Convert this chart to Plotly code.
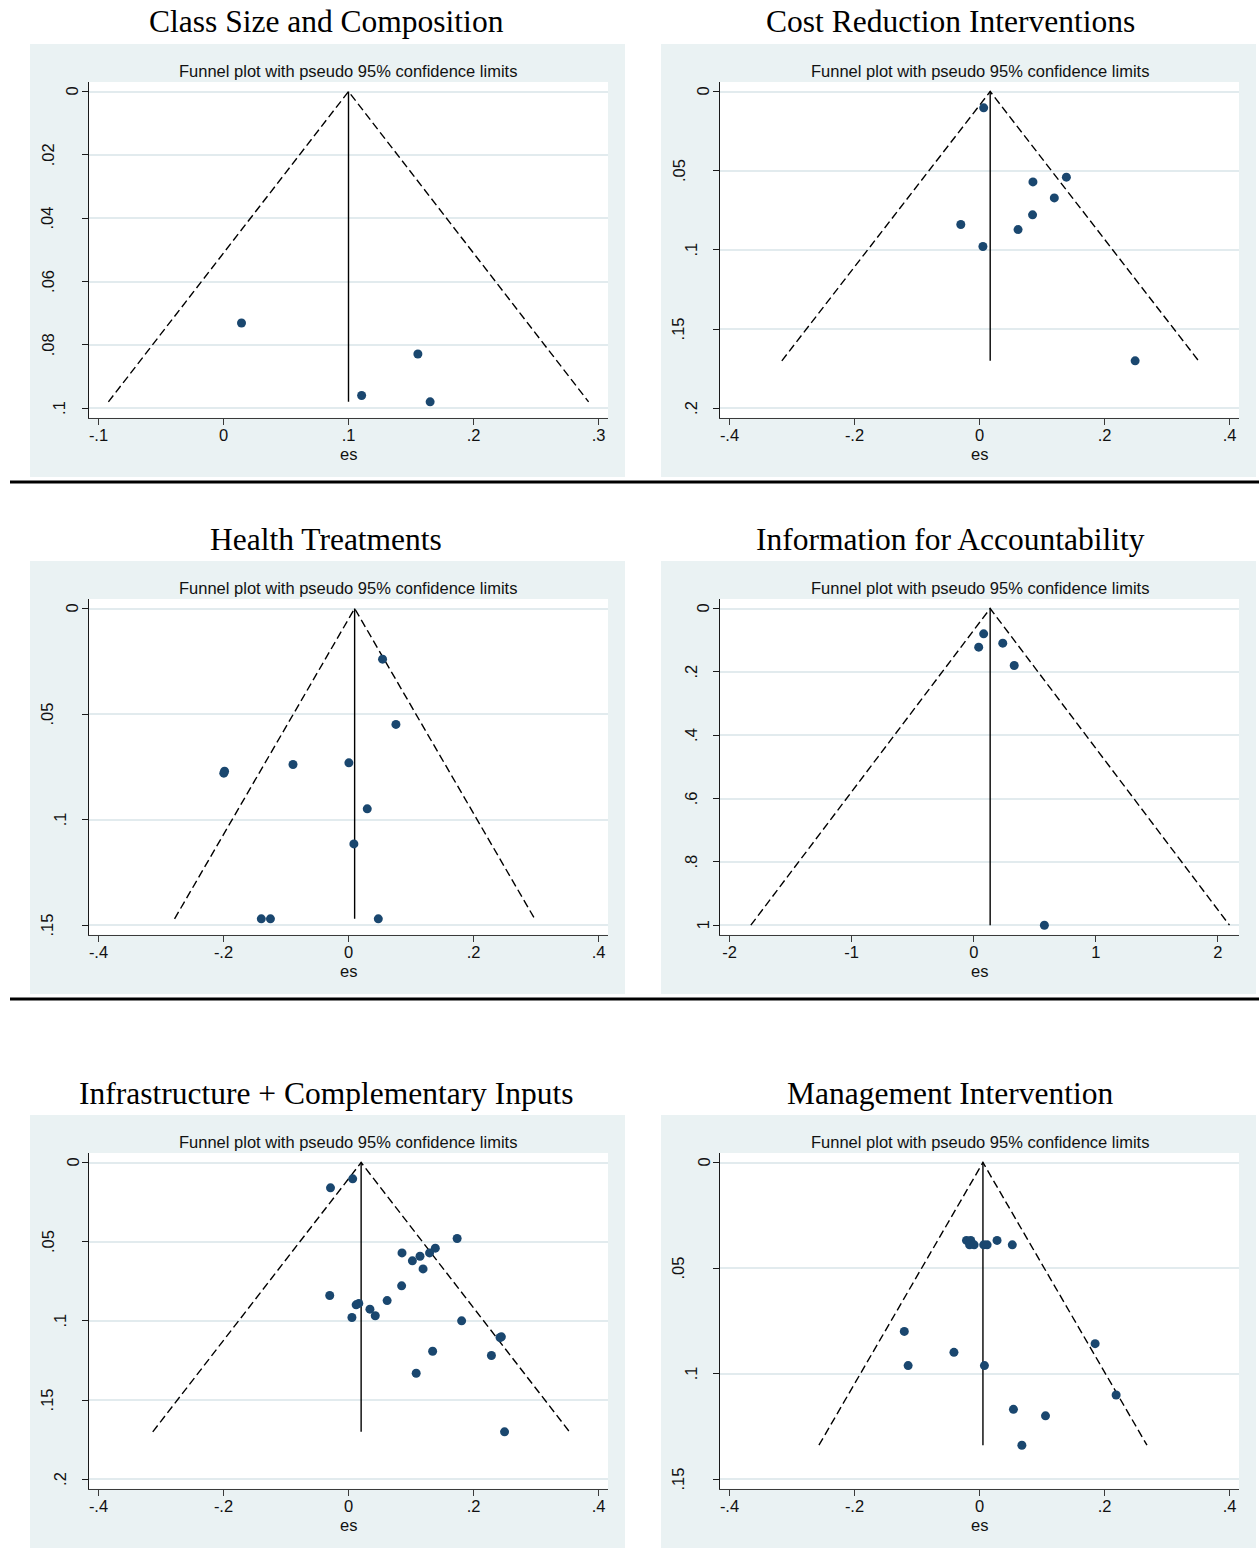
import plotly.graph_objects as go

W, H = 1259, 1548

# ---------------- data ----------------
panel_titles = [
    "Class Size and Composition",
    "Cost Reduction Interventions",
    "Health Treatments",
    "Information for Accountability",
    "Infrastructure + Complementary Inputs",
    "Management Intervention",
]
subtitle = "Funnel plot with pseudo 95% confidence limits"
x_title = "es"

class_es = [0.0144, 0.1555, 0.1105, 0.1653]
class_se = [0.0731, 0.0829, 0.0960, 0.0980]

cost_es = [0.0067, 0.0855, 0.1390, 0.1197, 0.0849, -0.0299, 0.0617, 0.0055, 0.2490]
cost_se = [0.0103, 0.0571, 0.0541, 0.0672, 0.0779, 0.0840, 0.0872, 0.0979, 0.1701]

health_es = [0.0545, 0.0759, -0.0888, 0.0006, -0.1983, -0.1995, 0.0300, 0.0086,
             -0.1395, -0.1249, 0.0477]
health_se = [0.0240, 0.0549, 0.0739, 0.0731, 0.0771, 0.0780, 0.0949, 0.1115,
             0.1470, 0.1470, 0.1470]

info_es = [0.0813, 0.0407, 0.2377, 0.3315, 0.5786]
info_se = [0.0800, 0.1221, 0.1095, 0.1800, 1.0000]

infra_es = [0.0067, -0.0288, 0.1738, 0.1389, 0.0856, 0.1297, 0.1144, 0.1022,
            0.1193, 0.0850, -0.0300, 0.0618, 0.0122, 0.0165, 0.0343, 0.0428,
            0.0055, 0.1810, 0.2446, 0.2425, 0.1346, 0.2287, 0.1083, 0.2497]
infra_se = [0.0103, 0.0160, 0.0480, 0.0541, 0.0571, 0.0571, 0.0592, 0.0621,
            0.0672, 0.0779, 0.0840, 0.0872, 0.0899, 0.0890, 0.0926, 0.0968,
            0.0979, 0.1000, 0.1101, 0.1105, 0.1192, 0.1219, 0.1331, 0.1701]

mgmt_es = [-0.0208, -0.0140, -0.0159, -0.0086, 0.0067, 0.0122, 0.0281, 0.0525,
           -0.1203, 0.1850, -0.0409, -0.1142, 0.0079, 0.2186, 0.0543, 0.1056, 0.0678]
mgmt_se = [0.0369, 0.0369, 0.0390, 0.0390, 0.0390, 0.0390, 0.0369, 0.0390,
           0.0800, 0.0858, 0.0899, 0.0962, 0.0962, 0.1101, 0.1169, 0.1200, 0.1339]

# pooled (fixed-effect) estimates
pooled = [0.100, 0.0171, 0.0098, 0.1345, 0.0202, 0.0055]

x_tickvals = [
    [-0.1, 0, 0.1, 0.2, 0.3],
    [-0.4, -0.2, 0, 0.2, 0.4],
    [-0.4, -0.2, 0, 0.2, 0.4],
    [-2, -1, 0, 1, 2],
    [-0.4, -0.2, 0, 0.2, 0.4],
    [-0.4, -0.2, 0, 0.2, 0.4],
]
x_ticktext = [
    ["-.1", "0", ".1", ".2", ".3"],
    ["-.4", "-.2", "0", ".2", ".4"],
    ["-.4", "-.2", "0", ".2", ".4"],
    ["-2", "-1", "0", "1", "2"],
    ["-.4", "-.2", "0", ".2", ".4"],
    ["-.4", "-.2", "0", ".2", ".4"],
]
y_tickvals = [
    [0, 0.02, 0.04, 0.06, 0.08, 0.1],
    [0, 0.05, 0.1, 0.15, 0.2],
    [0, 0.05, 0.1, 0.15],
    [0, 0.2, 0.4, 0.6, 0.8, 1.0],
    [0, 0.05, 0.1, 0.15, 0.2],
    [0, 0.05, 0.1, 0.15],
]
y_ticktext = [
    ["0", ".02", ".04", ".06", ".08", ".1"],
    ["0", ".05", ".1", ".15", ".2"],
    ["0", ".05", ".1", ".15"],
    ["0", ".2", ".4", ".6", ".8", "1"],
    ["0", ".05", ".1", ".15", ".2"],
    ["0", ".05", ".1", ".15"],
]

es_list = [class_es, cost_es, health_es, info_es, infra_es, mgmt_es]
se_list = [class_se, cost_se, health_se, info_se, infra_se, mgmt_se]

# ---------------- styling / layout geometry ----------------
BG = "#EAF2F3"
GRID = "#E2EBEE"
NAVY = "#1A476F"
SANS = "Liberation Sans, Arial, sans-serif"
SERIF = "Liberation Serif, Times New Roman, serif"
TXT = "#111111"
TICK_SIZE = 16.5

col_bg_left = [30, 661]
bg_w = 595
title_cx = [326, 950]
row_bg_top = [44, 561, 1115]
bg_h = 433
plot_x = [(89, 608), (720, 1239)]
INNER_X, INNER_Y = 500.0, 316.7
MARG = 9.5


def px_x(p):
    return p / W


def px_y(p):
    return 1 - p / H


fig = go.Figure()
shapes = []
annotations = []
layout_axes = {}

for i in range(6):
    r, c = divmod(i, 2)
    n = i + 1
    xa = "x" if n == 1 else f"x{n}"
    ya = "y" if n == 1 else f"y{n}"
    xkey = "xaxis" if n == 1 else f"xaxis{n}"
    ykey = "yaxis" if n == 1 else f"yaxis{n}"

    bx0 = col_bg_left[c]
    by0 = row_bg_top[r]
    px0, px1 = plot_x[c]
    py0 = by0 + 38
    py1 = by0 + 373.7

    es = es_list[i]
    se = se_list[i]
    theta = pooled[i]
    semax = max(se)
    lo = theta - 1.96 * semax
    hi = theta + 1.96 * semax

    # panel background and white plot region
    shapes.append(dict(type="rect", xref="paper", yref="paper", layer="below",
                       x0=px_x(bx0), x1=px_x(bx0 + bg_w), y0=px_y(by0 + bg_h), y1=px_y(by0),
                       fillcolor=BG, line=dict(width=0)))
    shapes.append(dict(type="rect", xref="paper", yref="paper", layer="below",
                       x0=px_x(px0), x1=px_x(px1), y0=px_y(py1), y1=px_y(py0),
                       fillcolor="white", line=dict(width=0)))

    # panel title and subtitle
    annotations.append(dict(text=panel_titles[i], xref="paper", yref="paper",
                            x=px_x(title_cx[c]), y=px_y(by0 - 22), xanchor="center",
                            yanchor="middle", showarrow=False,
                            font=dict(family=SERIF, size=31.5, color="black")))
    annotations.append(dict(text=subtitle, xref="paper", yref="paper",
                            x=px_x((px0 + px1) / 2), y=px_y(by0 + 27), xanchor="center",
                            yanchor="middle", showarrow=False,
                            font=dict(family=SANS, size=16.5, color=TXT)))
    # x-axis title
    annotations.append(dict(text=x_title, xref="paper", yref="paper",
                            x=px_x((px0 + px1) / 2), y=px_y(py1 + 36), xanchor="center",
                            yanchor="middle", showarrow=False,
                            font=dict(family=SANS, size=TICK_SIZE, color=TXT)))

    xv = x_tickvals[i]
    yv = y_tickvals[i]
    # plot region covers ticks and all drawn data, plus a fixed pixel margin
    xmin = min(xv[0], lo, min(es))
    xmax = max(xv[-1], hi, max(es))
    ymin = min(yv[0], 0)
    ymax = max(yv[-1], semax)
    xr = xmax - xmin
    yr = ymax - ymin
    xrange = [xmin - MARG / INNER_X * xr, xmax + MARG / INNER_X * xr]
    yrange = [ymax + MARG / INNER_Y * yr, ymin - MARG / INNER_Y * yr]

    # rotated y tick labels (Stata offsets longer labels further from the axis)
    for val, lab in zip(yv, y_ticktext[i]):
        off = 17 + 12.3 * (len(lab) - 1)
        annotations.append(dict(text=lab, xref="paper", yref=ya, x=px_x(px0 - off),
                                y=val, xanchor="center", yanchor="middle",
                                textangle=-90, showarrow=False,
                                font=dict(family=SANS, size=TICK_SIZE, color=TXT)))

    layout_axes[xkey] = dict(
        domain=[px_x(px0), px_x(px1)], anchor=ya, range=xrange,
        tickmode="array", tickvals=xv, ticktext=x_ticktext[i],
        showgrid=False, zeroline=False, showline=True, linecolor="#3a3a3a",
        linewidth=1.3, ticks="outside", ticklen=6, tickwidth=1, tickcolor="#3a3a3a",
        tickfont=dict(family=SANS, size=TICK_SIZE, color=TXT),
        ticklabelstandoff=-4,
        fixedrange=True,
    )
    layout_axes[ykey] = dict(
        domain=[px_y(py1), px_y(py0)], anchor=xa, range=yrange,
        tickmode="array", tickvals=yv, ticktext=y_ticktext[i],
        showticklabels=False,
        showgrid=True, gridcolor=GRID, gridwidth=2, zeroline=False,
        showline=True, linecolor="#1a1a1a", linewidth=1.3,
        ticks="outside", ticklen=6, tickwidth=1, tickcolor="#1a1a1a",
        fixedrange=True,
    )

    fig.add_trace(go.Scatter(x=[lo, theta, hi], y=[semax, 0, semax], mode="lines",
                             line=dict(color="black", width=1.4, dash="8px,4px"),
                             xaxis=xa, yaxis=ya, showlegend=False, hoverinfo="skip"))
    fig.add_trace(go.Scatter(x=[theta, theta], y=[0, semax], mode="lines",
                             line=dict(color="black", width=1.4),
                             xaxis=xa, yaxis=ya, showlegend=False, hoverinfo="skip"))
    fig.add_trace(go.Scatter(x=es, y=se, mode="markers",
                             marker=dict(color=NAVY, size=9, line=dict(width=0)),
                             xaxis=xa, yaxis=ya, showlegend=False,
                             name=panel_titles[i]))

# black separators between rows
for yline in [482, 999]:
    shapes.append(dict(type="line", xref="paper", yref="paper",
                       x0=px_x(10), x1=1, y0=px_y(yline), y1=px_y(yline),
                       line=dict(color="black", width=3)))

fig.update_layout(
    width=W, height=H,
    margin=dict(l=0, r=0, t=0, b=0),
    paper_bgcolor="white",
    plot_bgcolor="rgba(0,0,0,0)",
    shapes=shapes,
    annotations=annotations,
    showlegend=False,
    **layout_axes,
)

fig.write_html("out.html")
